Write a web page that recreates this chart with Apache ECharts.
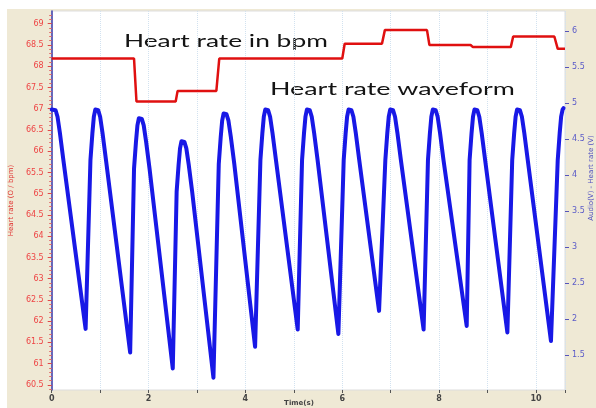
<!DOCTYPE html>
<html><head><meta charset="utf-8">
<script src="https://cdn.jsdelivr.net/npm/echarts@6.0.0/dist/echarts.min.js"></script>
<style>
html,body{margin:0;padding:0;background:#fff;}
#bg{position:absolute;left:7px;top:9px;width:589px;height:399px;background:#efe9d5;}
#c{position:absolute;left:0;top:0;width:596px;height:408px;}
</style>
</head><body><div id="bg"></div><div id="c"></div>
<script>
// Heart rate waveform (time in s, amplitude in V, right axis)
const waveTime = [0.00, 0.04, 0.08, 0.12, 0.17, 0.24, 0.70,
  0.80, 0.84, 0.87, 0.90, 0.92, 0.96, 1.00, 1.05, 1.12, 1.62,
  1.70, 1.74, 1.77, 1.80, 1.82, 1.86, 1.90, 1.95, 2.02, 2.50,
  2.58, 2.62, 2.65, 2.68, 2.70, 2.74, 2.78, 2.83, 2.90, 3.34,
  3.45, 3.49, 3.52, 3.55, 3.57, 3.61, 3.65, 3.70, 3.77, 4.20,
  4.31, 4.35, 4.38, 4.41, 4.43, 4.47, 4.51, 4.56, 4.63, 5.08,
  5.17, 5.21, 5.24, 5.27, 5.29, 5.33, 5.37, 5.42, 5.49, 5.92,
  6.03, 6.07, 6.10, 6.13, 6.15, 6.19, 6.23, 6.28, 6.35, 6.76,
  6.89, 6.93, 6.96, 6.99, 7.01, 7.05, 7.09, 7.14, 7.21, 7.68,
  7.77, 7.81, 7.84, 7.87, 7.89, 7.93, 7.97, 8.02, 8.09, 8.57,
  8.63, 8.67, 8.70, 8.73, 8.75, 8.79, 8.83, 8.88, 8.95, 9.41,
  9.51, 9.55, 9.58, 9.61, 9.63, 9.67, 9.71, 9.76, 9.83, 10.31,
  10.45, 10.49, 10.52, 10.55, 10.57];
const waveVolt = [4.91, 4.93, 4.90, 4.81, 4.58, 4.21, 1.86,
  4.21, 4.58, 4.81, 4.91, 4.93, 4.90, 4.81, 4.58, 4.21, 1.53,
  4.09, 4.46, 4.69, 4.79, 4.81, 4.78, 4.69, 4.46, 4.09, 1.31,
  3.77, 4.14, 4.37, 4.47, 4.49, 4.46, 4.37, 4.14, 3.77, 1.18,
  4.155, 4.525, 4.755, 4.855, 4.875, 4.845, 4.755, 4.525, 4.155, 1.61,
  4.21, 4.58, 4.81, 4.91, 4.93, 4.90, 4.81, 4.58, 4.21, 1.85,
  4.21, 4.58, 4.81, 4.91, 4.93, 4.90, 4.81, 4.58, 4.21, 1.79,
  4.21, 4.58, 4.81, 4.91, 4.93, 4.90, 4.81, 4.58, 4.21, 2.11,
  4.21, 4.58, 4.81, 4.91, 4.93, 4.90, 4.81, 4.58, 4.21, 1.85,
  4.21, 4.58, 4.81, 4.91, 4.93, 4.90, 4.81, 4.58, 4.21, 1.90,
  4.21, 4.58, 4.81, 4.91, 4.93, 4.90, 4.81, 4.58, 4.21, 1.81,
  4.21, 4.58, 4.81, 4.91, 4.93, 4.90, 4.81, 4.58, 4.21, 1.69,
  4.21, 4.58, 4.81, 4.91, 4.93];

// Heart rate in bpm (left axis)
const rateTime = [0, 1.70, 1.75, 2.56, 2.60, 3.40, 3.46, 6.00, 6.05, 6.82, 6.88, 7.75, 7.80, 8.65, 8.70, 9.48, 9.53, 10.38, 10.45, 10.6];
const rateBpm  = [68.18, 68.18, 67.17, 67.17, 67.42, 67.42, 68.18, 68.18, 68.53, 68.53, 68.85, 68.85, 68.50, 68.50, 68.45, 68.45, 68.70, 68.70, 68.41, 68.41];

// Tick labels
const leftTicks  = [60.5, 61, 61.5, 62, 62.5, 63, 63.5, 64, 64.5, 65, 65.5, 66, 66.5, 67, 67.5, 68, 68.5, 69];
const rightTicks = [1.5, 2, 2.5, 3, 3.5, 4, 4.5, 5, 5.5, 6];
const xTicks     = [0, 2, 4, 6, 8, 10];

const minorLeft = [];
for (let i = 0; i < leftTicks.length; i++) {
  for (let k = 1; k < 5; k++) minorLeft.push(+(leftTicks[i] - 0.5 + k * 0.1).toFixed(2));
}
minorLeft.push(69.1, 69.2);

const chart = echarts.init(document.getElementById('c'), null, {renderer: 'canvas'});
chart.setOption({
  animation: false,
  backgroundColor: 'transparent',
  grid: {left: 48, right: 31, top: 11, bottom: 18, show: true, backgroundColor: '#ffffff', borderColor: '#dddddd', borderWidth: 1},
  xAxis: {
    type: 'value', min: 0, max: 10.6, interval: 1,
    axisLine: {show: false},
    axisTick: {show: true, length: 3, lineStyle: {color: '#555'}},
    axisLabel: {customValues: xTicks, fontSize: 8, color: '#444', margin: 5, fontWeight: 'bold', fontFamily: 'DejaVu Sans'},
    splitLine: {show: true, lineStyle: {color: '#d2e2f0', type: 'dotted', width: 1}}
  },
  yAxis: [{
    type: 'value', min: 60.38, max: 69.3, position: 'left',
    axisLine: {show: true, lineStyle: {color: '#3a3aa8', width: 1.5}},
    axisTick: {show: true, customValues: leftTicks, length: 4, lineStyle: {color: '#e04848'}},
    axisLabel: {customValues: leftTicks, color: '#ee4444', fontSize: 8, margin: 8, fontFamily: 'DejaVu Sans'},
    splitLine: {show: false},
    name: 'Heart rate (O / bpm)', nameLocation: 'middle', nameGap: 34,
    nameTextStyle: {color: '#e03030', fontSize: 7, fontFamily: 'DejaVu Sans'}
  }, {
    type: 'value', min: 1.01, max: 6.28, position: 'right',
    axisLine: {show: false},
    axisTick: {show: true, customValues: rightTicks, length: 4, lineStyle: {color: '#5555bb'}},
    axisLabel: {customValues: rightTicks, color: '#5a5ac8', fontSize: 8, margin: 7, fontFamily: 'DejaVu Sans'},
    splitLine: {show: false}
  }, {
    type: 'value', min: 60.38, max: 69.3, position: 'left',
    axisLine: {show: false},
    axisTick: {show: true, customValues: minorLeft, length: 2.5, lineStyle: {color: '#e06868'}},
    axisLabel: {show: false},
    splitLine: {show: false}
  }],
  graphic: [
    {type: 'text', x: 124, y: 41.5, scaleX: 1.55, style: {text: 'Heart rate in bpm', font: '17px Lato', fill: '#141414', align: 'left', verticalAlign: 'middle'}},
    {type: 'text', x: 270, y: 90, scaleX: 1.58, style: {text: 'Heart rate waveform', font: '17px Lato', fill: '#141414', align: 'left', verticalAlign: 'middle'}},
    {type: 'text', x: 299, y: 403, style: {text: 'Time(s)', font: 'bold 7px DejaVu Sans', fill: '#444', align: 'center', verticalAlign: 'middle'}},
    {type: 'text', x: 591, y: 178, rotation: Math.PI / 2, style: {text: 'Audio(V) - Heart rate (V)', font: '7px DejaVu Sans', fill: '#5050c0', align: 'center', verticalAlign: 'middle'}}
  ],
  series: [{
    type: 'line', name: 'Heart rate waveform', yAxisIndex: 1,
    data: waveTime.map((t, i) => [t, waveVolt[i]]),
    showSymbol: false, symbol: 'none',
    lineStyle: {color: '#1818e6', width: 4, join: 'round', cap: 'round'}, z: 2
  }, {
    type: 'line', name: 'Heart rate in bpm', yAxisIndex: 0,
    data: rateTime.map((t, i) => [t, rateBpm[i]]),
    showSymbol: false, symbol: 'none',
    lineStyle: {color: '#e01010', width: 2.5}, z: 3
  }]
});
</script>
</body></html>
